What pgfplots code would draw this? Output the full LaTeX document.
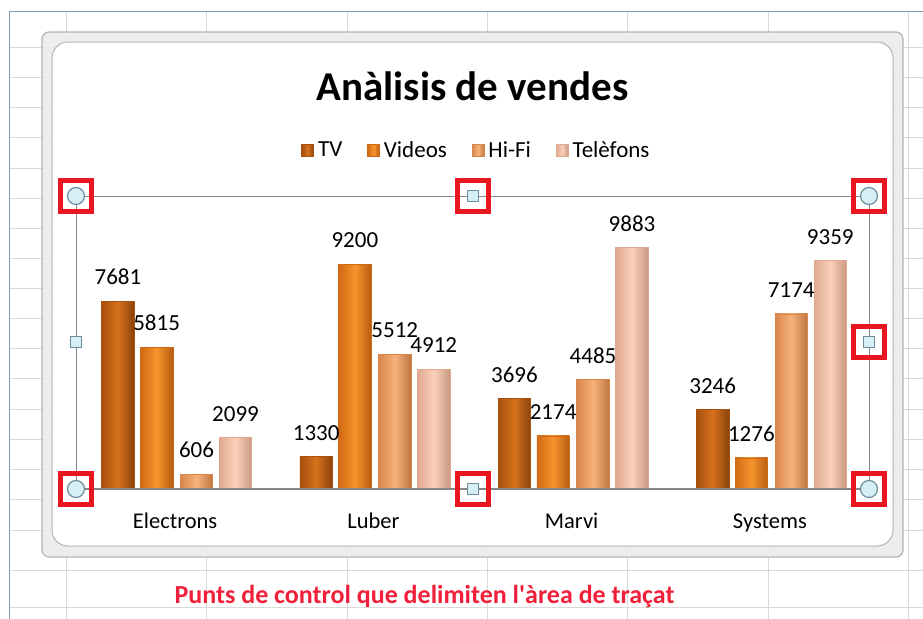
\documentclass[border=0pt]{standalone}
\usepackage{fontspec}
\setmainfont{Carlito}
\usepackage{pgfplots}
\pgfplotsset{compat=1.18}
\definecolor{gridgray}{HTML}{D9D9D9}
\definecolor{blueline}{HTML}{7F9DB9}
\definecolor{framegray}{HTML}{ECECEC}
\definecolor{framedark}{HTML}{B4B4B4}
\definecolor{axgray}{HTML}{868686}
\definecolor{capred}{HTML}{F0203A}
\definecolor{tvA}{HTML}{A8500E}
\definecolor{tvB}{HTML}{D5711C}
\definecolor{viA}{HTML}{D06A14}
\definecolor{viB}{HTML}{F7942C}
\definecolor{hfA}{HTML}{D8864A}
\definecolor{hfB}{HTML}{F6B27A}
\definecolor{teA}{HTML}{E0A98E}
\definecolor{teB}{HTML}{F9D0BC}
\definecolor{cpfill}{HTML}{D6EFF6}
\definecolor{cpdraw}{HTML}{6F8E9C}
\definecolor{cpred}{HTML}{E8161E}
\pgfplotsset{
  tvs/.style={draw=tvA, line width=0.6bp, left color=tvA, right color=tvA!82!black, middle color=tvB},
  vis/.style={draw=viA, line width=0.6bp, left color=viA, right color=viA!88!black, middle color=viB},
  hfs/.style={draw=hfA, line width=0.6bp, left color=hfA, right color=hfA!88!black, middle color=hfB},
  tes/.style={draw=teA, line width=0.6bp, left color=teA, right color=teA!90!black, middle color=teB},
}
\newcommand{\onebar}[4]{\addplot[#1, bar shift=#2, forget plot] coordinates {(#3,#4)};}
\begin{document}
\begin{tikzpicture}
\begin{scope}[x=1bp,y=-1bp]
\fill[white] (0,0) rectangle (923,619);
\foreach \gx in {66,206,347,487,627,768,908} \draw[gridgray,line width=1bp] (\gx,11) -- (\gx,619);
\foreach \gy in {47,77,107,137,168,198,228,258,288,318,348,378,409,439,469,499,530,570,607} \draw[gridgray,line width=1bp] (9,\gy) -- (923,\gy);
\draw[blueline,line width=1bp] (9,619) -- (9,11) -- (923,11);
\fill[framegray,opacity=0.9,rounded corners=7bp] (42,32) rectangle (903,557);
\draw[framedark,line width=1.2bp,rounded corners=7bp] (42,32) rectangle (903,557);
\fill[white,rounded corners=16bp] (52,42) rectangle (893,546);
\draw[framedark,line width=1bp,rounded corners=16bp] (52,42) rectangle (893,546);
\node[anchor=base,font=\bfseries\fontsize{41bp}{45bp}\selectfont,inner sep=0pt] at (472.5,100) {Anàlisis de vendes};
\node[anchor=base,font=\bfseries\fontsize{26bp}{30bp}\selectfont,text=capred,inner sep=0pt] at (424.5,603) {Punts de control que delimiten l\textquotesingle àrea de traçat};
\end{scope}
\begin{axis}[
  at={(76bp,-489bp)}, anchor=south west,
  scale only axis, width=793bp, height=293bp,
  xmin=-0.5, xmax=3.5, ymin=0, ymax=12000,
  ybar, bar width=32.5bp,
  axis line style={draw=none},
  ytick=\empty, xtick={0,1,2,3},
  xticklabels={Electrons,Luber,Marvi,Systems},
  major tick length=0pt,
  xticklabel style={font=\fontsize{22.5bp}{26bp}\selectfont, anchor=base, yshift=-39bp},
  clip=false,
  nodes near coords,
  every node near coord/.append style={font=\fontsize{23bp}{27bp}\selectfont, inner sep=0pt, yshift=16bp, text=black},
  /pgf/number format/1000 sep={},
  /pgf/number format/assume math mode=true,
  legend columns=4,
  legend style={at={(0.505,1.157)}, anchor=center, draw=none, fill=none,
    font=\fontsize{23bp}{27bp}\selectfont,
    /tikz/every odd column/.append style={column sep=2bp},
    /tikz/every even column/.append style={column sep=23bp}},
  legend image code/.code={\fill[#1] (0bp,-6bp) rectangle (12bp,6bp);},
]
% TV
\onebar{tvs}{-57.2bp}{0}{7681}
\onebar{tvs}{-57.2bp}{1}{1330}
\onebar{tvs}{-57.2bp}{2}{3696}
\onebar{tvs}{-57.2bp}{3}{3246}
% Videos
\onebar{vis}{-18.5bp}{0}{5815}
\onebar{vis}{-18.5bp}{1}{9200}
\onebar{vis}{-18.5bp}{2}{2174}
\onebar{vis}{-18.5bp}{3}{1276}
% Hi-Fi
\onebar{hfs}{21.4bp}{0}{606}
\onebar{hfs}{21.4bp}{1}{5512}
\onebar{hfs}{21.4bp}{2}{4485}
\onebar{hfs}{21.4bp}{3}{7174}
% Telefons
\onebar{tes}{60.4bp}{0}{2099}
\onebar{tes}{60.4bp}{1}{4912}
\onebar{tes}{60.4bp}{2}{9883}
\onebar{tes}{60.4bp}{3}{9359}
\addlegendimage{tvs}\addlegendentry{TV}
\addlegendimage{vis}\addlegendentry{Videos}
\addlegendimage{hfs}\addlegendentry{Hi-Fi}
\addlegendimage{tes}\addlegendentry{Telèfons}
\end{axis}
\begin{scope}[x=1bp,y=-1bp]
\draw[axgray,line width=1bp] (76,489) -- (76,196) -- (869,196) -- (869,489);
\draw[axgray,line width=1.6bp] (76,489) -- (869,489);
\foreach \cx/\cy in {76/196,473/196,869/196,76/489,473/489,869/489,869/342}
  \draw[cpred,line width=5bp] (\cx-15.5,\cy-15.5) rectangle (\cx+15.5,\cy+15.5);
\foreach \cx/\cy in {76/196,869/196,76/489,869/489}
  \draw[cpdraw,fill=cpfill,line width=1.2bp] (\cx,\cy) circle (8.5);
\foreach \cx/\cy in {473/196,473/489,76/342,869/342}
  \draw[cpdraw,fill=cpfill,line width=1.2bp] (\cx-5.5,\cy-5.5) rectangle (\cx+5.5,\cy+5.5);
\end{scope}
\pgfresetboundingbox
\path[use as bounding box] (0bp,0bp) rectangle (923bp,-619bp);
\end{tikzpicture}
\end{document}
